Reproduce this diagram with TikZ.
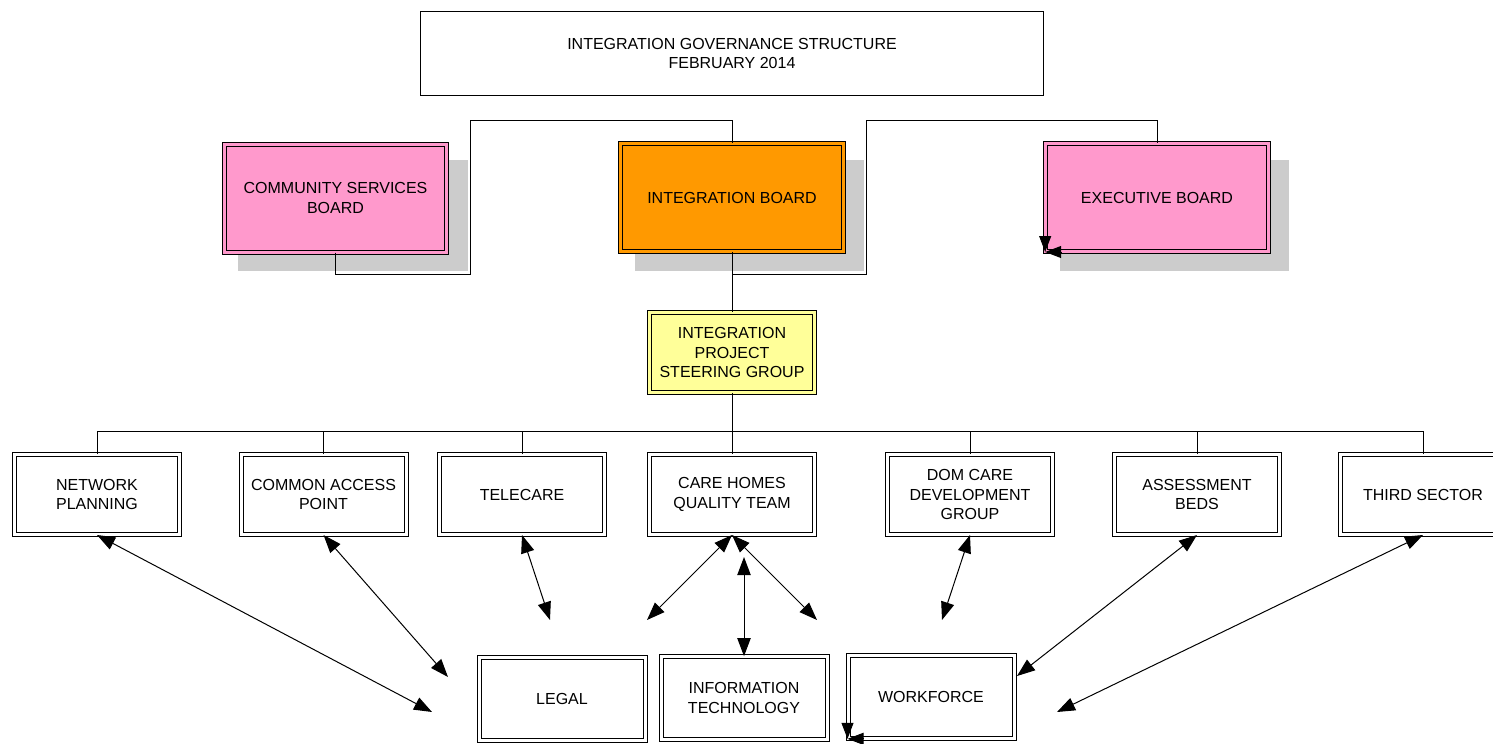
\documentclass[tikz,border=0pt]{standalone}
\usepackage{fontspec}
\setmainfont{Liberation Sans}
\usepackage{xcolor}
\usepackage{tikz}
\usetikzlibrary{shapes,arrows.meta,positioning,shadows,calc}
\definecolor{boardpink}{HTML}{FF99CC}
\definecolor{boardorange}{HTML}{FF9900}
\definecolor{groupyellow}{HTML}{FFFF99}
\definecolor{shadowgray}{HTML}{CCCCCC}

\begin{document}
\begin{tikzpicture}[x=0.75pt,y=-0.75pt,
    every node/.style={font=\fontsize{12pt}{14.5pt}\selectfont, align=center, inner sep=0pt},
    frame/.style={draw, line width=0.75pt, double=#1, double distance=2.25pt, fill=#1},
    board/.style={frame=#1, minimum width=167pt, minimum height=81pt,
        drop shadow={shadow xshift=12.75pt, shadow yshift=-13pt, shadow scale=1.03, fill=shadowgray, opacity=1}},
    unit/.style={frame=#1, minimum width=123.75pt, minimum height=60pt},
    unit/.default=white,
    lower/.style={frame=white, minimum width=124.5pt, minimum height=62pt},
    titlebox/.style={draw, line width=0.75pt, minimum width=467pt, minimum height=63pt},
    link/.style={line width=0.75pt},
    both/.style={line width=0.75pt, {Triangle[length=13.5pt,width=10pt]}-{Triangle[length=13.5pt,width=10pt]}},
    cornerhead/.style={line width=0.75pt, -{Triangle[length=12pt,width=9pt]}}]
    \useasboundingbox (0,0) rectangle (1493,743);

    % Title
    \node[titlebox] (title) at (732,53.5) {INTEGRATION GOVERNANCE STRUCTURE\\FEBRUARY 2014};

    % Boards
    \node[board=boardpink] (csb) at (335.5,198) {COMMUNITY SERVICES\\BOARD};
    \node[board=boardorange] (ib) at (732,197.5) {INTEGRATION BOARD};
    \node[board=boardpink] (eb) at (1157,197.5) {EXECUTIVE BOARD};

    % Steering group
    \node[unit=groupyellow] (psg) at (732,352.5) {INTEGRATION\\PROJECT\\STEERING GROUP};

    % Work streams
    \node[unit] (np) at (97,494.5) {NETWORK\\PLANNING};
    \node[unit] (cap) at (323.5,494.5) {COMMON ACCESS\\POINT};
    \node[unit] (tc) at (522,494.5) {TELECARE};
    \node[unit] (ch) at (732,494.5) {CARE HOMES\\QUALITY TEAM};
    \node[unit] (dc) at (970,494.5) {DOM CARE\\DEVELOPMENT\\GROUP};
    \node[unit] (ab) at (1197,494.5) {ASSESSMENT\\BEDS};
    \node[unit] (ts) at (1423,494.5) {THIRD SECTOR};

    % Support functions
    \node[lower] (legal) at (562,699) {LEGAL};
    \node[lower] (it) at (744,698) {INFORMATION\\TECHNOLOGY};
    \node[lower] (wf) at (931,697) {WORKFORCE};

    % Board links
    \coordinate (lelbow) at (470,274);
    \coordinate (ltop) at (470,120);
    \coordinate (rtop) at (866,120);
    \coordinate (rlow) at (866,274);
    \draw[link] (csb.south) |- (lelbow) -- (ltop) -| (ib.north);
    \draw[link] (ib.south) -- (psg.north);
    \draw[link] (ib.south |- rlow) -- (rlow) -- (rtop) -| (eb.north);

    % Bus to work streams
    \coordinate (bus) at (732,431);
    \draw[link] (psg.south) -- (ch.north);
    \foreach \n in {np,cap,tc,dc,ab,ts}
        \draw[link] (\n.north) |- (bus);

    % Free arrow ends
    \coordinate (npend) at (432,712);
    \coordinate (capend) at (448,677);
    \coordinate (tcend) at (550,620);
    \coordinate (chleft) at (647,620);
    \coordinate (chright) at (817,620);
    \coordinate (ittop) at (744,557);
    \coordinate (dcend) at (942,620);
    \coordinate (wfright) at (1017,676);
    \coordinate (tsend) at (1057,712);

    % Two-way arrows
    \draw[both] (np.south) -- (npend);
    \draw[both] (cap.south) -- (capend);
    \draw[both] (tc.south) -- (tcend);
    \draw[both] (ch.south) -- (chleft);
    \draw[both] (ch.south) -- (chright);
    \draw[both] (ittop) -- (it.north);
    \draw[both] (dc.south) -- (dcend);
    \draw[both] (ab.south) -- (wfright);
    \draw[both] (ts.south) -- (tsend);

    % Corner heads
    \draw[cornerhead] ($(eb.south west)+(0,-16)$) -- (eb.south west);
    \draw[cornerhead] ($(eb.south west)+(16,0)$) -- (eb.south west);
    \draw[cornerhead] ($(wf.south west)+(0,-16)$) -- (wf.south west);
    \draw[cornerhead] ($(wf.south west)+(16,0)$) -- (wf.south west);
\end{tikzpicture}
\end{document}
